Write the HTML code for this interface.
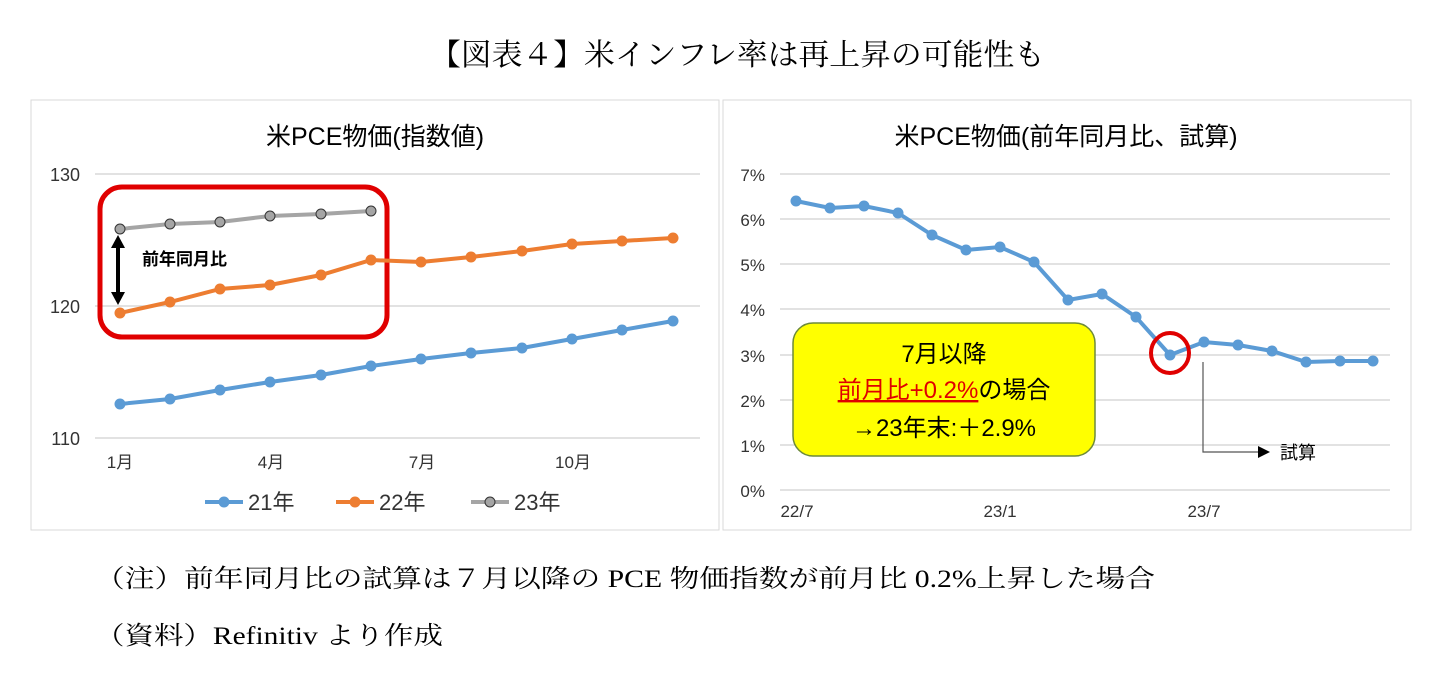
<!DOCTYPE html>
<html><head><meta charset="utf-8"><style>
body{margin:0;background:#fff;width:1446px;height:685px;overflow:hidden;font-family:"Liberation Sans","Noto Sans CJK JP",sans-serif}
svg text{font-family:"Liberation Sans","Noto Sans CJK JP",sans-serif}
svg text.serif{font-family:"Liberation Serif","Noto Serif CJK SC",serif}
</style></head><body>
<svg width="1446" height="685" xmlns="http://www.w3.org/2000/svg">
<text x="430" y="65" font-size="30" class="serif" textLength="615" lengthAdjust="spacingAndGlyphs">【図表４】米インフレ率は再上昇の可能性も</text>
<rect x="31" y="100" width="688" height="430" fill="#fff" stroke="#d9d9d9"/>
<rect x="723" y="100" width="688" height="430" fill="#fff" stroke="#d9d9d9"/>
<text x="375" y="145" text-anchor="middle" font-size="25">米PCE物価(指数値)</text>
<g stroke="#d9d9d9" stroke-width="1.5"><line x1="95" y1="174" x2="700" y2="174"/><line x1="95" y1="306" x2="700" y2="306"/><line x1="95" y1="438" x2="700" y2="438"/></g>
<g font-size="18" fill="#333" text-anchor="end"><text x="80" y="181">130</text><text x="80" y="313">120</text><text x="80" y="445">110</text></g>
<g font-size="17" fill="#333" text-anchor="middle"><text x="120" y="468">1月</text><text x="271" y="468">4月</text><text x="422" y="468">7月</text><text x="573" y="468">10月</text></g>
<rect x="100" y="187" width="287" height="150" rx="22" fill="none" stroke="#e00000" stroke-width="5"/>
<polyline fill="none" stroke="#5b9bd5" stroke-width="4" points="120,404 170,399 220,390 270,382 321,375 371,366 421,359 471,353 522,348 572,339 622,330 673,321"/>
<g fill="#5b9bd5"><circle cx="120" cy="404" r="5.5"/><circle cx="170" cy="399" r="5.5"/><circle cx="220" cy="390" r="5.5"/><circle cx="270" cy="382" r="5.5"/><circle cx="321" cy="375" r="5.5"/><circle cx="371" cy="366" r="5.5"/><circle cx="421" cy="359" r="5.5"/><circle cx="471" cy="353" r="5.5"/><circle cx="522" cy="348" r="5.5"/><circle cx="572" cy="339" r="5.5"/><circle cx="622" cy="330" r="5.5"/><circle cx="673" cy="321" r="5.5"/></g>
<polyline fill="none" stroke="#ed7d31" stroke-width="4" points="120,313 170,302 220,289 270,285 321,275 371,260 421,262 471,257 522,251 572,244 622,241 673,238"/>
<g fill="#ed7d31"><circle cx="120" cy="313" r="5.5"/><circle cx="170" cy="302" r="5.5"/><circle cx="220" cy="289" r="5.5"/><circle cx="270" cy="285" r="5.5"/><circle cx="321" cy="275" r="5.5"/><circle cx="371" cy="260" r="5.5"/><circle cx="421" cy="262" r="5.5"/><circle cx="471" cy="257" r="5.5"/><circle cx="522" cy="251" r="5.5"/><circle cx="572" cy="244" r="5.5"/><circle cx="622" cy="241" r="5.5"/><circle cx="673" cy="238" r="5.5"/></g>
<polyline fill="none" stroke="#a5a5a5" stroke-width="4" points="120,229 170,224 220,222 270,216 321,214 371,211"/>
<g fill="#a5a5a5" stroke="#333" stroke-width="1"><circle cx="120" cy="229" r="5"/><circle cx="170" cy="224" r="5"/><circle cx="220" cy="222" r="5"/><circle cx="270" cy="216" r="5"/><circle cx="321" cy="214" r="5"/><circle cx="371" cy="211" r="5"/></g>
<line x1="118" y1="245" x2="118" y2="295" stroke="#000" stroke-width="4"/>
<polygon points="118,235 111,248 125,248" fill="#000"/><polygon points="118,305 111,292 125,292" fill="#000"/>
<text x="142" y="265" font-size="17" font-weight="bold">前年同月比</text>
<g font-size="22" fill="#333"><line x1="205" y1="502" x2="243" y2="502" stroke="#5b9bd5" stroke-width="4"/><circle cx="224" cy="502" r="5.5" fill="#5b9bd5"/><text x="248" y="510">21年</text>
<line x1="336" y1="502" x2="374" y2="502" stroke="#ed7d31" stroke-width="4"/><circle cx="355" cy="502" r="5.5" fill="#ed7d31"/><text x="379" y="510">22年</text>
<line x1="471" y1="502" x2="509" y2="502" stroke="#a5a5a5" stroke-width="4"/><circle cx="490" cy="502" r="5" fill="#a5a5a5" stroke="#333"/><text x="514" y="510">23年</text></g>
<text x="1066" y="145" text-anchor="middle" font-size="25">米PCE物価(前年同月比、試算)</text>
<g stroke="#d9d9d9" stroke-width="1.5"><line x1="780" y1="174" x2="1390" y2="174"/><line x1="780" y1="219" x2="1390" y2="219"/><line x1="780" y1="264" x2="1390" y2="264"/><line x1="780" y1="309" x2="1390" y2="309"/><line x1="780" y1="355" x2="1390" y2="355"/><line x1="780" y1="400" x2="1390" y2="400"/><line x1="780" y1="445" x2="1390" y2="445"/><line x1="780" y1="490" x2="1390" y2="490"/></g>
<g font-size="17" fill="#333" text-anchor="end"><text x="765" y="181">7%</text><text x="765" y="226">6%</text><text x="765" y="271">5%</text><text x="765" y="316">4%</text><text x="765" y="362">3%</text><text x="765" y="407">2%</text><text x="765" y="452">1%</text><text x="765" y="497">0%</text></g>
<g font-size="17" fill="#333" text-anchor="middle"><text x="797" y="517">22/7</text><text x="1000" y="517">23/1</text><text x="1204" y="517">23/7</text></g>
<polyline fill="none" stroke="#5b9bd5" stroke-width="4" points="796,201 830,208 864,206 898,213 932,235 966,250 1000,247 1034,262 1068,300 1102,294 1136,317 1170,355 1204,342 1238,345 1272,351 1306,362 1340,361 1373,361"/>
<g fill="#5b9bd5"><circle cx="796" cy="201" r="5.5"/><circle cx="830" cy="208" r="5.5"/><circle cx="864" cy="206" r="5.5"/><circle cx="898" cy="213" r="5.5"/><circle cx="932" cy="235" r="5.5"/><circle cx="966" cy="250" r="5.5"/><circle cx="1000" cy="247" r="5.5"/><circle cx="1034" cy="262" r="5.5"/><circle cx="1068" cy="300" r="5.5"/><circle cx="1102" cy="294" r="5.5"/><circle cx="1136" cy="317" r="5.5"/><circle cx="1170" cy="355" r="5.5"/><circle cx="1204" cy="342" r="5.5"/><circle cx="1238" cy="345" r="5.5"/><circle cx="1272" cy="351" r="5.5"/><circle cx="1306" cy="362" r="5.5"/><circle cx="1340" cy="361" r="5.5"/><circle cx="1373" cy="361" r="5.5"/></g>
<ellipse cx="1170" cy="353" rx="19" ry="20" fill="none" stroke="#e00000" stroke-width="4"/>
<polyline points="1203,362 1203,452 1265,452" fill="none" stroke="#555" stroke-width="1.2"/>
<polygon points="1258,446 1270,452 1258,458" fill="#000"/>
<text x="1280" y="459" font-size="18">試算</text>
<rect x="793" y="323" width="302" height="133" rx="20" fill="#ffff00" stroke="#6d8a3a" stroke-width="1.5"/>
<g font-size="24" text-anchor="middle"><text x="944" y="362">7月以降</text>
<text x="944" y="398"><tspan fill="#e00000" text-decoration="underline">前月比+0.2%</tspan>の場合</text>
<text x="944" y="436">→23年末:＋2.9%</text></g>
<text x="95" y="587" font-size="25" class="serif" textLength="1060" lengthAdjust="spacingAndGlyphs">（注）前年同月比の試算は７月以降の PCE 物価指数が前月比 0.2%上昇した場合</text>
<text x="95" y="644" font-size="25" class="serif" textLength="348" lengthAdjust="spacingAndGlyphs">（資料）Refinitiv より作成</text>
</svg>
</body></html>
